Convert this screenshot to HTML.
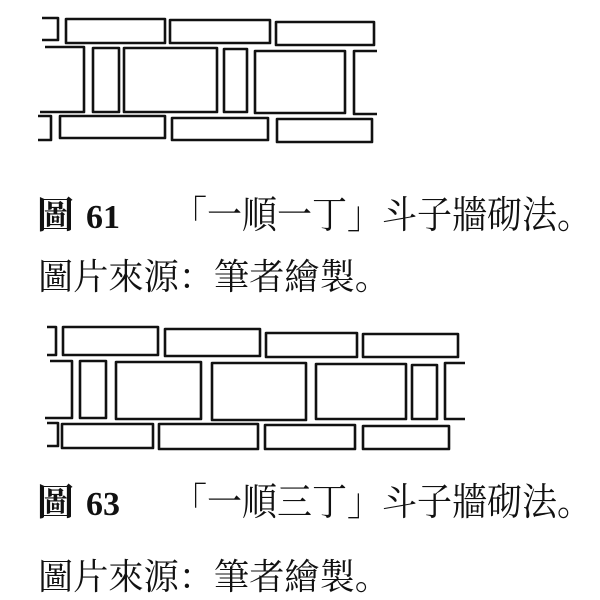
<!DOCTYPE html>
<html><head><meta charset="utf-8"><style>
html,body{margin:0;padding:0;background:#fff;width:600px;height:600px;overflow:hidden}
svg{display:block}
.t{font-family:"Liberation Serif","Noto Serif CJK SC",serif;fill:#111}
</style></head><body>
<svg width="600" height="600" viewBox="0 0 600 600" xmlns="http://www.w3.org/2000/svg">
<g fill="none" stroke="#111" stroke-width="2.6" stroke-linejoin="round">
<path d="M42 18 H58 V40 H42"/>
<rect x="66" y="19" width="99" height="24"/>
<rect x="170" y="20" width="100" height="23"/>
<rect x="276" y="22" width="98" height="23"/>
<path d="M45 47 H84 V112 H40"/>
<rect x="93" y="48" width="26" height="64"/>
<rect x="124" y="48" width="93" height="64"/>
<rect x="224" y="49" width="23" height="63"/>
<rect x="255" y="51" width="90" height="62"/>
<path d="M377 51 H354 V114 H377"/>
<path d="M38 116 H51 V140 H38"/>
<rect x="60" y="116" width="105" height="22"/>
<rect x="172" y="118" width="96" height="22"/>
<rect x="277" y="119" width="95" height="23"/>
<path d="M47 327 H56 V355 H47"/>
<rect x="63" y="327" width="95" height="28"/>
<rect x="165" y="329" width="95" height="27"/>
<rect x="266" y="333" width="91" height="24"/>
<rect x="363" y="334" width="95" height="23"/>
<path d="M50 361 H72 V418 H45"/>
<rect x="80" y="361" width="26" height="57"/>
<rect x="116" y="362" width="85" height="57"/>
<rect x="212" y="363" width="94" height="57"/>
<rect x="316" y="364" width="90" height="55"/>
<rect x="412" y="365" width="25" height="54"/>
<path d="M465 363 H445 V419 H465"/>
<path d="M47 423 H58 V446 H47"/>
<rect x="62" y="424" width="91" height="24"/>
<rect x="159" y="424" width="99" height="25"/>
<rect x="265" y="425" width="90" height="24"/>
<rect x="363" y="426" width="86" height="23"/>
</g>
<text class="t" x="37" y="228" font-size="37" font-weight="bold">圖</text>
<text class="t" x="86" y="228" font-size="34" font-weight="bold" textLength="34" lengthAdjust="spacingAndGlyphs">61</text>
<text class="t" x="172" y="228" font-size="38" textLength="420" lengthAdjust="spacingAndGlyphs">「一順一丁」斗子牆砌法。</text>
<text class="t" x="38" y="289" font-size="36" textLength="352" lengthAdjust="spacingAndGlyphs">圖片來源：筆者繪製。</text>
<text class="t" x="37" y="515" font-size="37" font-weight="bold">圖</text>
<text class="t" x="86" y="515" font-size="34" font-weight="bold" textLength="34" lengthAdjust="spacingAndGlyphs">63</text>
<text class="t" x="172" y="515" font-size="38" textLength="420" lengthAdjust="spacingAndGlyphs">「一順三丁」斗子牆砌法。</text>
<text class="t" x="38" y="589" font-size="36" textLength="352" lengthAdjust="spacingAndGlyphs">圖片來源：筆者繪製。</text>
</svg>
</body></html>
